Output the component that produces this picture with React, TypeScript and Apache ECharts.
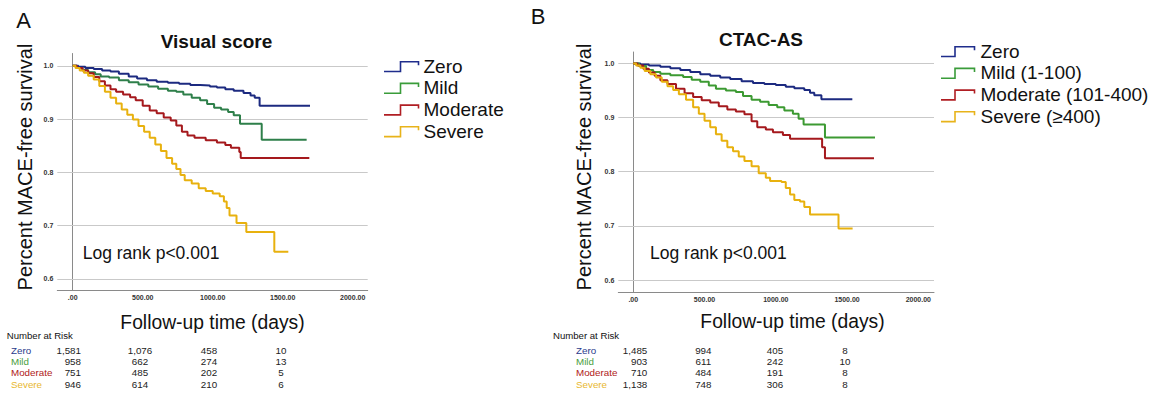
import React, { useEffect, useRef } from "react";
import * as echarts from "echarts";

// ---------- data ----------
const xTicks = [0, 500, 1000, 1500, 2000];
const yTicks = [0.6, 0.7, 0.8, 0.9, 1.0];
const groupNames = ["Zero", "Mild", "Moderate", "Severe"];
const legendNamesA = ["Zero", "Mild", "Moderate", "Severe"];
const legendNamesB = ["Zero", "Mild (1-100)", "Moderate (101-400)", "Severe (≥400)"];

// Panel A: Visual score  [days, survival]
const visualZero = [[0,1],[40,0.998],[90,0.996],[150,0.994],[210,0.991],[270,0.989],[330,0.985],[400,0.98],[460,0.976],[530,0.973],[600,0.97],[680,0.968],[760,0.966],[840,0.964],[910,0.963],[980,0.961],[1030,0.959],[1090,0.956],[1150,0.953],[1220,0.949],[1270,0.944],[1300,0.94],[1335,0.925],[1695,0.925]];
const visualMild = [[0,1],[30,0.996],[70,0.992],[110,0.988],[160,0.984],[200,0.98],[260,0.978],[330,0.973],[400,0.969],[470,0.965],[540,0.961],[610,0.957],[680,0.953],[740,0.951],[790,0.946],[850,0.94],[910,0.935],[960,0.928],[1010,0.921],[1060,0.918],[1110,0.913],[1150,0.907],[1195,0.891],[1350,0.861],[1671,0.861]];
const visualModerate = [[0,1],[30,0.996],[70,0.991],[110,0.986],[150,0.979],[190,0.971],[230,0.963],[270,0.956],[310,0.951],[360,0.946],[410,0.941],[450,0.935],[500,0.925],[550,0.916],[600,0.911],[650,0.903],[700,0.897],[740,0.888],[780,0.876],[820,0.869],[870,0.865],[950,0.86],[1030,0.856],[1090,0.851],[1130,0.846],[1190,0.838],[1200,0.827],[1690,0.827]];
const visualSevere = [[0,1],[20,0.996],[50,0.991],[80,0.987],[110,0.981],[150,0.974],[190,0.962],[230,0.951],[270,0.94],[310,0.929],[350,0.918],[390,0.908],[430,0.899],[470,0.887],[510,0.876],[550,0.865],[590,0.852],[630,0.84],[670,0.827],[710,0.816],[740,0.806],[770,0.795],[800,0.785],[850,0.779],[900,0.77],[950,0.765],[1000,0.76],[1050,0.755],[1080,0.745],[1100,0.733],[1120,0.719],[1170,0.705],[1240,0.688],[1440,0.651],[1540,0.651]];

// Panel B: CTAC-AS
const ctacZero = [[0,1],[50,0.998],[110,0.996],[190,0.994],[260,0.991],[330,0.988],[400,0.984],[470,0.98],[540,0.977],[610,0.974],[680,0.971],[760,0.967],[840,0.964],[920,0.962],[1000,0.96],[1070,0.957],[1130,0.954],[1200,0.951],[1240,0.946],[1270,0.941],[1320,0.934],[1537,0.934]];
const ctacMild = [[0,1],[40,0.995],[90,0.988],[140,0.984],[190,0.981],[260,0.978],[350,0.975],[410,0.97],[470,0.966],[530,0.959],[580,0.953],[650,0.95],[720,0.947],[770,0.94],[830,0.933],[890,0.929],[950,0.923],[1010,0.919],[1060,0.913],[1120,0.907],[1160,0.898],[1195,0.887],[1345,0.863],[1696,0.863]];
const ctacModerate = [[0,1],[30,0.996],[70,0.99],[110,0.983],[150,0.977],[190,0.969],[240,0.962],[300,0.953],[360,0.945],[420,0.938],[480,0.932],[540,0.928],[600,0.921],[660,0.915],[720,0.911],[780,0.906],[830,0.893],[870,0.882],[930,0.878],[980,0.873],[1050,0.868],[1100,0.861],[1325,0.845],[1345,0.825],[1689,0.825]];
const ctacSevere = [[0,1],[20,0.996],[50,0.992],[80,0.986],[120,0.98],[160,0.974],[200,0.966],[240,0.958],[280,0.951],[320,0.943],[370,0.933],[420,0.919],[460,0.907],[500,0.894],[540,0.882],[580,0.869],[620,0.857],[660,0.845],[700,0.838],[740,0.828],[780,0.82],[830,0.81],[880,0.797],[930,0.789],[960,0.783],[1040,0.781],[1070,0.77],[1100,0.758],[1130,0.748],[1170,0.745],[1200,0.735],[1240,0.721],[1440,0.695],[1539,0.695]];

// Number at risk (at 0, 500, 1000, 1500 days)
const riskA = [[1581, 1076, 458, 10], [958, 662, 274, 13], [751, 485, 202, 5], [946, 614, 210, 6]];
const riskB = [[1485, 994, 405, 8], [903, 611, 242, 10], [710, 484, 191, 8], [1138, 748, 306, 8]];

// ---------- styles ----------
const FONT = '"Liberation Sans", Arial, sans-serif';
const curveColorsA = ["#1c2a80", "#2e7f4a", "#a5191d", "#e8b10e"];
const curveColorsB = ["#1c2a80", "#3c9a32", "#a5191d", "#e8b10e"];
const legendColors = ["#1f2d8c", "#3a9c3a", "#b01e23", "#e8b31a"];
const riskColors = ["#2a3a8c", "#4aa040", "#b02020", "#e8b830"];

function fmtNum(n: number) {
  return n.toLocaleString("en-US");
}

export default function App() {
  const ref = useRef<HTMLDivElement>(null);

  useEffect(() => {
    if (!ref.current) return;
    const chart = echarts.init(ref.current, null, { renderer: "svg" });

    const xAxisBase = (idx: number, min: number, max: number) => ({
      type: "value",
      gridIndex: idx,
      min,
      max,
      axisLine: { show: true, lineStyle: { color: "#8a8a8a", width: 1 } },
      axisTick: { show: false },
      splitLine: { show: false },
      axisLabel: {
        customValues: xTicks,
        formatter: (v: number) => (v === 0 ? ".00" : v.toFixed(2)),
        fontSize: 7,
        fontWeight: "bold",
        color: "#333",
        fontFamily: FONT,
        margin: 4,
      },
    });
    const yAxisBase = (idx: number, min: number, max: number) => ({
      type: "value",
      gridIndex: idx,
      min,
      max,
      axisLine: { show: true, lineStyle: { color: "#8a8a8a", width: 1 } },
      axisTick: { show: false },
      splitLine: { show: false },
      axisLabel: {
        customValues: yTicks,
        formatter: (v: number) => v.toFixed(1),
        fontSize: 7,
        fontWeight: "bold",
        color: "#333",
        fontFamily: FONT,
        margin: 4,
      },
    });

    const gridLines = {
      silent: true,
      symbol: ["none", "none"],
      label: { show: false },
      lineStyle: { color: "#c9c9c9", width: 1, type: "solid" },
      data: yTicks.map((v) => ({ yAxis: v })),
      z: 1,
    };

    const dataA = [visualZero, visualMild, visualModerate, visualSevere];
    const dataB = [ctacZero, ctacMild, ctacModerate, ctacSevere];

    const series: any[] = [];
    dataA.forEach((d, i) => {
      series.push({
        type: "line",
        name: "A " + groupNames[i],
        xAxisIndex: 0,
        yAxisIndex: 0,
        step: "end",
        data: d,
        showSymbol: false,
        symbol: "none",
        lineStyle: { color: curveColorsA[i], width: 2 },
        itemStyle: { color: curveColorsA[i] },
        z: 3,
        ...(i === 0 ? { markLine: gridLines } : {}),
      });
    });
    dataB.forEach((d, i) => {
      series.push({
        type: "line",
        name: "B " + groupNames[i],
        xAxisIndex: 1,
        yAxisIndex: 1,
        step: "end",
        data: d,
        showSymbol: false,
        symbol: "none",
        lineStyle: { color: curveColorsB[i], width: 2 },
        itemStyle: { color: curveColorsB[i] },
        z: 3,
        ...(i === 0 ? { markLine: gridLines } : {}),
      });
    });

    const graphics: any[] = [];
    const txt = (text: string, x: number, y: number, size: number, opts: any = {}) => ({
      type: "text",
      x,
      y,
      rotation: opts.rotation || 0,
      silent: true,
      style: {
        text,
        fill: opts.fill || "#111",
        font: `${opts.weight || "normal"} ${size}px ${FONT}`,
        align: opts.align || "left",
        verticalAlign: opts.vAlign || "middle",
      },
    });

    // Panel letters and titles
    graphics.push(txt("A", 23.5, 20, 22, { align: "center" }));
    graphics.push(txt("B", 538, 16, 22, { align: "center" }));
    graphics.push(txt("Visual score", 216.5, 41, 19, { align: "center", weight: "bold" }));
    graphics.push(txt("CTAC-AS", 761, 39.5, 19, { align: "center", weight: "bold" }));

    // Axis titles
    graphics.push(txt("Percent MACE-free survival", 25, 167, 20, { align: "center", rotation: Math.PI / 2 }));
    graphics.push(txt("Percent MACE-free survival", 583.5, 167, 20, { align: "center", rotation: Math.PI / 2 }));
    graphics.push(txt("Follow-up time (days)", 212.5, 322, 19.3, { align: "center" }));
    graphics.push(txt("Follow-up time (days)", 792.5, 321, 19.3, { align: "center" }));

    // Log rank annotations
    graphics.push(txt("Log rank p<0.001", 82.7, 253, 17.5));
    graphics.push(txt("Log rank p<0.001", 650, 253, 17.5));

    // Legends
    const legend = (names: string[], x0: number, x1: number, x2: number, tx: number, y0: number) => {
      names.forEach((n, i) => {
        const y = y0 + i * 21.7;
        graphics.push({
          type: "polyline",
          silent: true,
          shape: { points: [[x0, y + 5.5], [x1, y + 5.5], [x1, y - 4.3], [x2, y - 4.3], [x2, y - 0.8]] },
          style: { stroke: legendColors[i], lineWidth: 1.6, fill: null },
        });
        graphics.push(txt(n, tx, y, 19));
      });
    };
    legend(legendNamesA, 384, 400.5, 418.5, 423.5, 66);
    legend(legendNamesB, 941, 955, 974.5, 980.5, 51);

    // Number at risk tables
    const table = (rows: number[][], labelX: number, headX: number, col1Right: number, cols: number[]) => {
      graphics.push(txt("Number at Risk", headX, 335, 9.6));
      rows.forEach((r, i) => {
        const y = 350.7 + i * 11.1;
        graphics.push(txt(groupNames[i], labelX, y, 9.8, { fill: riskColors[i] }));
        graphics.push(txt(fmtNum(r[0]), col1Right, y, 9.8, { align: "right", fill: "#222" }));
        for (let c = 1; c < 4; c++) {
          graphics.push(txt(fmtNum(r[c]), cols[c - 1], y, 9.8, { align: "center", fill: "#222" }));
        }
      });
    };
    table(riskA, 11, 6.7, 81, [140, 209, 281]);
    table(riskB, 576, 553, 647.3, [703.3, 775, 845]);

    chart.setOption({
      animation: false,
      backgroundColor: "#ffffff",
      textStyle: { fontFamily: FONT },
      grid: [
        { left: 57.3, top: 53.5, width: 310.4, height: 236.5, containLabel: false },
        { left: 618.3, top: 52, width: 315.7, height: 240, containLabel: false },
      ],
      xAxis: [xAxisBase(0, -110, 2107), xAxisBase(1, -105, 2110)],
      yAxis: [yAxisBase(0, 0.579, 1.023), yAxisBase(1, 0.578, 1.021)],
      series,
      graphic: graphics,
    });

    return () => chart.dispose();
  }, []);

  return (
    <div
      ref={ref}
      style={{ position: "absolute", left: 0, top: 0, width: 1168, height: 399, background: "#fff" }}
    />
  );
}
